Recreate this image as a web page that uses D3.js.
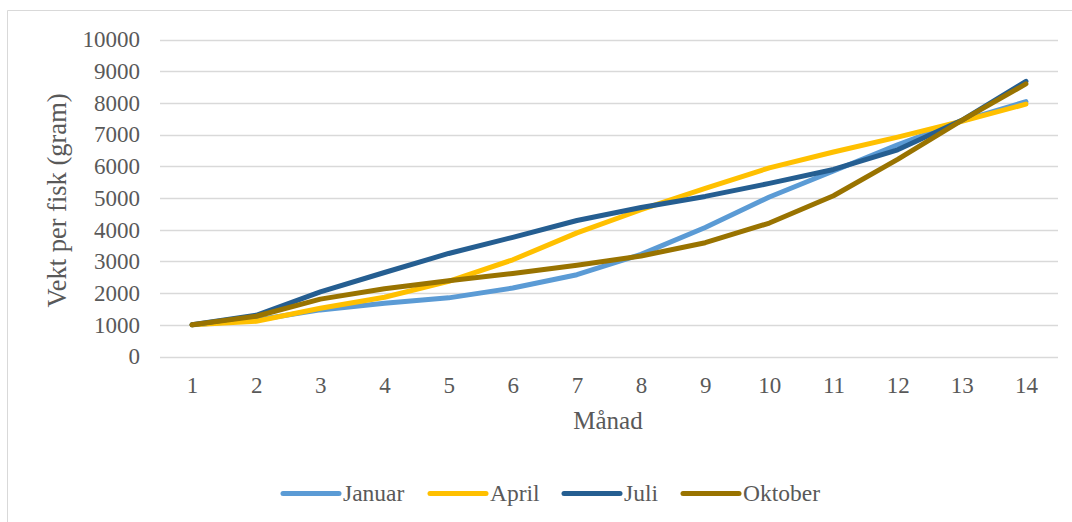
<!DOCTYPE html>
<html><head><meta charset="utf-8">
<script src="https://cdn.jsdelivr.net/npm/d3@7"></script>
<style>html,body{margin:0;padding:0;background:#fff;}svg{display:block;}</style>
</head><body>
<svg id="chart" width="1072" height="522"></svg>
<script>
const months = ["1","2","3","4","5","6","7","8","9","10","11","12","13","14"];
const yTicks = [0,1000,2000,3000,4000,5000,6000,7000,8000,9000,10000];
const seriesNames = ["Januar","April","Juli","Oktober"];
const januar  = [1000,1150,1470,1680,1850,2160,2580,3220,4070,5030,5850,6680,7430,8040];
const april   = [1000,1110,1520,1870,2370,3050,3900,4630,5300,5950,6450,6920,7420,7960];
const juli    = [1000,1300,2040,2650,3250,3760,4290,4700,5050,5460,5900,6520,7450,8680];
const oktober = [1000,1270,1810,2140,2390,2620,2880,3170,3590,4210,5070,6220,7450,8600];
const colors = ["#5B9BD5","#FFC000","#255E91","#997300"];
const seriesValues = [januar, april, juli, oktober];

const svg = d3.select("#chart");
const font = "'Liberation Serif','Times New Roman',serif";
const textColor = "#595959";

svg.append("path").attr("d","M7.5,522 V10.5 H1072").attr("fill","none").attr("stroke","#D9D9D9").attr("stroke-width",1);

const pLeft = 160, pRight = 1058, pTop = 39.5, pBottom = 356.5;
const x = d3.scalePoint().domain(months).range([pLeft, pRight]).padding(0.5);
const y = d3.scaleLinear().domain([0,10000]).range([pBottom, pTop]);

svg.append("g").selectAll("line").data(yTicks).join("line")
  .attr("x1", pLeft).attr("x2", pRight)
  .attr("y1", d => Math.round(y(d))+0.5).attr("y2", d => Math.round(y(d))+0.5)
  .attr("stroke","#D9D9D9").attr("stroke-width",1.3);

const yAxis = d3.axisLeft(y).tickValues(yTicks).tickSize(0).tickPadding(0).tickFormat(d3.format("d"));
const gy = svg.append("g").attr("transform",`translate(${140},0)`).call(yAxis);
gy.select(".domain").remove();
gy.selectAll("text").attr("font-family",font).attr("font-size","23px").attr("fill",textColor).attr("dy","0.32em");

const xAxis = d3.axisBottom(x).tickSize(0).tickPadding(0);
const gx = svg.append("g").attr("transform",`translate(0,${393})`).call(xAxis);
gx.select(".domain").remove();
gx.selectAll("text").attr("font-family",font).attr("font-size","23px").attr("fill",textColor).attr("y",0).attr("dy","0");

svg.append("text").attr("x", 608).attr("y", 429).attr("text-anchor","middle")
  .attr("font-family",font).attr("font-size","25px").attr("fill",textColor).text("Månad");
svg.append("text").attr("transform",`translate(${66},${200.5}) rotate(-90)`).attr("text-anchor","middle")
  .attr("font-family",font).attr("font-size","26.5px").attr("fill",textColor).text("Vekt per fisk (gram)");

const line = d3.line().x((d,i) => x(months[i])).y(d => y(d));
svg.append("g").selectAll("path").data(seriesValues).join("path")
  .attr("d", d => line(d)).attr("fill","none")
  .attr("stroke",(d,i) => colors[i]).attr("stroke-width",5)
  .attr("stroke-linecap","round").attr("stroke-linejoin","round");

const legendX = [283, 430, 564, 683];
const lg = svg.append("g").selectAll("g").data(seriesNames).join("g")
  .attr("transform",(d,i) => `translate(${legendX[i]},${493.5})`);
lg.append("line").attr("x1",0).attr("x2",56).attr("y1",0).attr("y2",0)
  .attr("stroke",(d,i) => colors[i]).attr("stroke-width",5).attr("stroke-linecap","round");
lg.append("text").attr("x",60).attr("y",0).attr("dy","0.33em")
  .attr("font-family",font).attr("font-size","23.5px").attr("fill",textColor).text(d => d);
</script>
</body></html>
